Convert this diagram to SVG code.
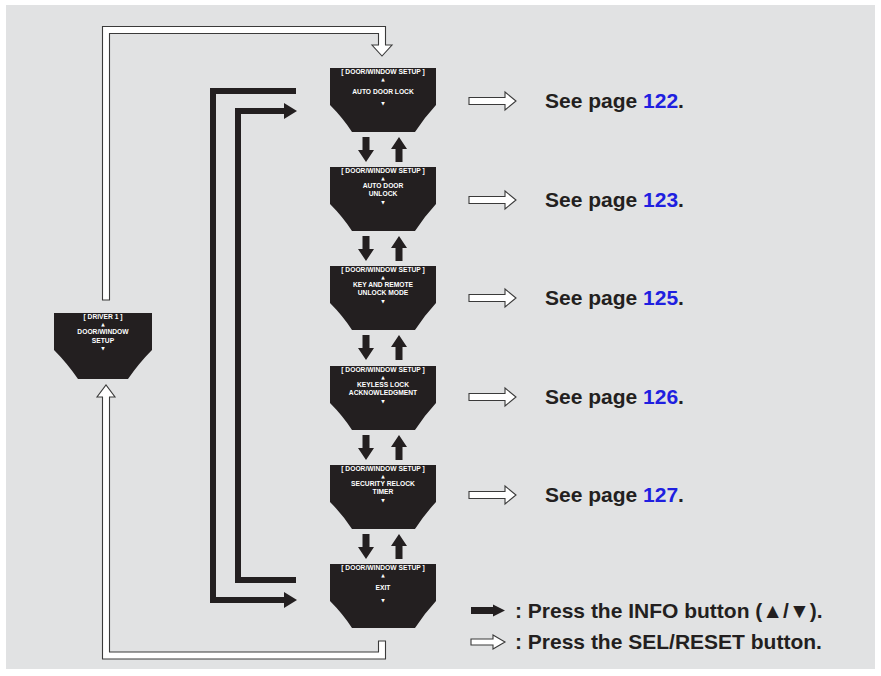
<svg xmlns="http://www.w3.org/2000/svg" xmlns:xlink="http://www.w3.org/1999/xlink" width="881" height="676" viewBox="0 0 881 676">
<style>
.nd{fill:#231f20}
.nt{fill:#fff;font-family:"Liberation Sans",Arial,sans-serif;font-weight:bold;font-size:6.7px;text-anchor:middle}
.tri{fill:#fff;font-family:"DejaVu Sans",sans-serif;font-size:4.5px;text-anchor:middle}
.blk{fill:#231f20}
.thick{fill:none;stroke:#231f20;stroke-width:6}
.hol{fill:#fff;stroke:#3a3a3a;stroke-width:1.1}
.lbl{fill:#231f20;font-family:"Liberation Sans",Arial,sans-serif;font-weight:bold;font-size:21px}
.pg{fill:#1f1fe0}
</style>
<defs>
<path id="dn" d="M-3.5,0 H3.5 V13 H8 L0,25 L-8,13 H-3.5 Z"/>
<path id="up" d="M-3.5,25 H3.5 V12 H8 L0,0 L-8,12 H-3.5 Z"/>
<path id="harr" d="M469,-3.5 H505 V-9 L516,0 L505,9 V3.5 H469 Z"/>
<path id="shape" d="M-53,0 H53 V37 Q41,50 32,64 H-31 Q-40,50 -53,37 Z"/>
</defs>
<rect x="0" y="0" width="881" height="676" fill="#fff"/>
<rect x="6" y="5" width="869" height="664" fill="#e1e2e3"/>

<g id="connectors">
<path class="hol" d="M102.5,300 V26.5 H385.5 V45 H392 L382,56 L372,45 H378.5 V33.5 H109.5 V300 Z"/>
<path class="hol" d="M385.5,641 V659 H102.5 V397 H97 L106,385 L115,397 H109.5 V652 H378.5 V641 Z"/>
<path class="thick" d="M296,91 H213 V600 H285"/>
<polygon class="blk" points="284,592 297,600 284,608"/>
<path class="thick" d="M296,580 H238 V111 H285"/>
<polygon class="blk" points="284,103 297,111 284,119"/>
<g class="blk">
<use xlink:href="#dn" x="366" y="137"/><use xlink:href="#up" x="399" y="137"/>
<use xlink:href="#dn" x="366" y="236"/><use xlink:href="#up" x="399" y="236"/>
<use xlink:href="#dn" x="366" y="335"/><use xlink:href="#up" x="399" y="335"/>
<use xlink:href="#dn" x="366" y="435"/><use xlink:href="#up" x="399" y="435"/>
<use xlink:href="#dn" x="366" y="534"/><use xlink:href="#up" x="399" y="534"/>
</g>
<g class="hol">
<use xlink:href="#harr" y="101"/>
<use xlink:href="#harr" y="200"/>
<use xlink:href="#harr" y="298"/>
<use xlink:href="#harr" y="397"/>
<use xlink:href="#harr" y="495"/>
</g>
</g>

<g id="node-driver">
<path class="nd" d="M54,313 H152 V350 Q139,363 128,379 H78 Q67,363 54,350 Z"/>
<text class="nt" x="103" y="319">[ DRIVER 1 ]</text>
<text class="tri" x="103" y="325.7">▲</text>
<text class="nt" x="103" y="334.3">DOOR/WINDOW</text>
<text class="nt" x="103" y="343.3">SETUP</text>
<text class="tri" x="103" y="349.7">▼</text>
</g>

<g id="node-autolock">
<use class="nd" xlink:href="#shape" x="383" y="68"/>
<text class="nt" x="383" y="74">[ DOOR/WINDOW SETUP ]</text>
<text class="tri" x="383" y="80.7">▲</text>
<text class="nt" x="383" y="94.3">AUTO DOOR LOCK</text>
<text class="tri" x="383" y="104.7">▼</text>
</g>

<g id="node-autounlock">
<use class="nd" xlink:href="#shape" x="383" y="167"/>
<text class="nt" x="383" y="173">[ DOOR/WINDOW SETUP ]</text>
<text class="tri" x="383" y="179.7">▲</text>
<text class="nt" x="383" y="188.3">AUTO DOOR</text>
<text class="nt" x="383" y="196.3">UNLOCK</text>
<text class="tri" x="383" y="203.7">▼</text>
</g>

<g id="node-keyremote">
<use class="nd" xlink:href="#shape" x="383" y="266"/>
<text class="nt" x="383" y="272">[ DOOR/WINDOW SETUP ]</text>
<text class="tri" x="383" y="278.7">▲</text>
<text class="nt" x="383" y="287.3">KEY AND REMOTE</text>
<text class="nt" x="383" y="295.3">UNLOCK MODE</text>
<text class="tri" x="383" y="302.7">▼</text>
</g>

<g id="node-keyless">
<use class="nd" xlink:href="#shape" x="383" y="366"/>
<text class="nt" x="383" y="372">[ DOOR/WINDOW SETUP ]</text>
<text class="tri" x="383" y="378.7">▲</text>
<text class="nt" x="383" y="387.3">KEYLESS LOCK</text>
<text class="nt" x="383" y="395.3">ACKNOWLEDGMENT</text>
<text class="tri" x="383" y="402.7">▼</text>
</g>

<g id="node-relock">
<use class="nd" xlink:href="#shape" x="383" y="465"/>
<text class="nt" x="383" y="471">[ DOOR/WINDOW SETUP ]</text>
<text class="tri" x="383" y="477.7">▲</text>
<text class="nt" x="383" y="486.3">SECURITY RELOCK</text>
<text class="nt" x="383" y="494.3">TIMER</text>
<text class="tri" x="383" y="501.7">▼</text>
</g>

<g id="node-exit">
<use class="nd" xlink:href="#shape" x="383" y="564"/>
<text class="nt" x="383" y="570">[ DOOR/WINDOW SETUP ]</text>
<text class="tri" x="383" y="576.7">▲</text>
<text class="nt" x="383" y="590.3">EXIT</text>
<text class="tri" x="383" y="601.7">▼</text>
</g>

<g id="labels">
<text class="lbl" x="545" y="108">See page <tspan class="pg">122</tspan>.</text>
<text class="lbl" x="545" y="207">See page <tspan class="pg">123</tspan>.</text>
<text class="lbl" x="545" y="305">See page <tspan class="pg">125</tspan>.</text>
<text class="lbl" x="545" y="404">See page <tspan class="pg">126</tspan>.</text>
<text class="lbl" x="545" y="502">See page <tspan class="pg">127</tspan>.</text>
</g>

<g id="legend">
<path class="blk" d="M471,607 H493 V604.5 L505,610.5 L493,616.5 V614 H471 Z"/>
<text class="lbl" x="515" y="618">: Press the INFO button (▲/▼).</text>
<path class="hol" d="M471,639 H493 V635 L505,642 L493,649 V645 H471 Z"/>
<text class="lbl" x="515" y="649">: Press the SEL/RESET button.</text>
</g>
</svg>
